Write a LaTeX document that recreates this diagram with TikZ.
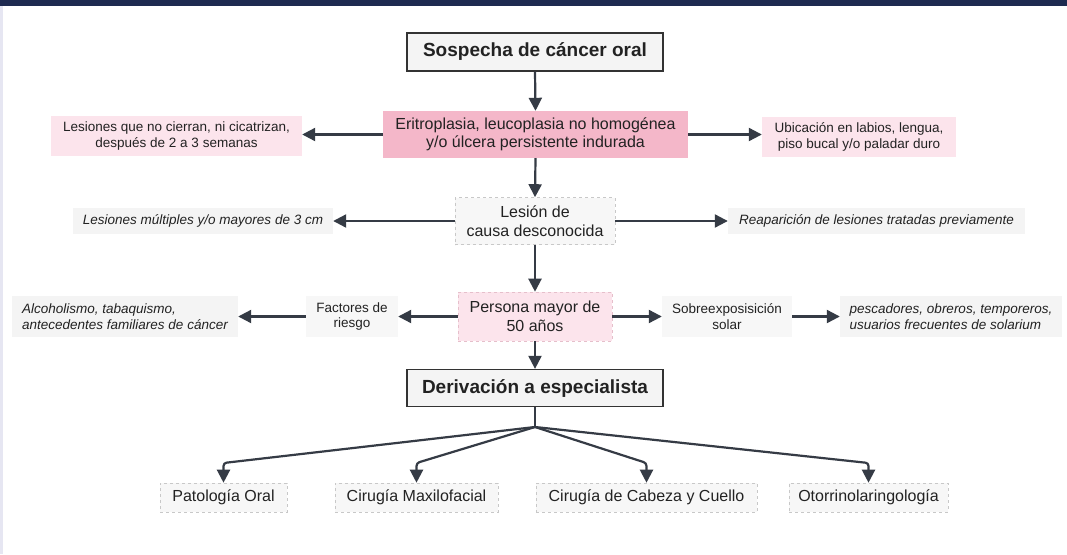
\documentclass[tikz,border=0pt]{standalone}
\usepackage{fontspec}
\setmainfont{Liberation Sans}
\usetikzlibrary{arrows.meta}
\definecolor{navy}{HTML}{1E2A50}
\definecolor{lav}{HTML}{E6E6F2}
\definecolor{txt}{HTML}{222222}
\definecolor{lin}{HTML}{353B45}
\definecolor{boxline}{HTML}{333333}
\definecolor{gbox}{HTML}{F4F4F4}
\definecolor{lgbox}{HTML}{F7F7F7}
\definecolor{dashgray}{HTML}{C8C8C8}
\definecolor{pinkA}{HTML}{F4B7C9}
\definecolor{pinkB}{HTML}{FCE4EC}
\definecolor{pinkdash}{HTML}{E6BFCB}
\begin{document}
\begin{tikzpicture}[x=1pt,y=-1pt,
  base/.style={inner sep=0pt, align=center, text=txt, font=\fontsize{13.5}{15.5}\selectfont},
  mainbox/.style={base, draw=boxline, line width=1.3pt, fill=gbox, font=\bfseries\fontsize{19}{22}\selectfont},
  hotbox/.style={base, fill=pinkA, font=\fontsize{16}{18.5}\selectfont},
  softpink/.style={base, fill=pinkB},
  personbox/.style={base, fill=pinkB, draw=pinkdash, dashed, line width=0.6pt, font=\fontsize{16}{18.5}\selectfont},
  graybox/.style={base, fill=lgbox, draw=dashgray, dashed, line width=0.6pt, font=\fontsize{16}{18.5}\selectfont},
  plainbox/.style={base, fill=lgbox},
  itbox/.style={base, fill=gbox, font=\itshape\fontsize{13.5}{15.5}\selectfont},
  arr/.style={draw=lin, line width=2.2pt, -{Triangle[length=13pt,width=13pt]}},
  ln/.style={draw=lin, line width=2.2pt}
]
\useasboundingbox (0,0) rectangle (1067,554);
\fill[white] (0,0) rectangle (1067,554);
\fill[navy] (0,0) rectangle (1067,6);
\fill[lav] (0,6) rectangle (3,554);

% nodes
\node[mainbox, minimum width=256pt, minimum height=38pt] (sosp) at (535,52) {Sospecha de cáncer oral};
\node[hotbox, minimum width=305pt, minimum height=47pt] (erit) at (535.5,134.5) {Eritroplasia, leucoplasia no homogénea\\y/o úlcera persistente indurada};
\node[softpink, minimum width=251pt, minimum height=40pt] (lesq) at (176.5,136) {Lesiones que no cierran, ni cicatrizan,\\después de 2 a 3 semanas};
\node[softpink, minimum width=194pt, minimum height=40pt] (ubic) at (859,137) {Ubicación en labios, lengua,\\piso bucal y/o paladar duro};
\node[graybox, minimum width=160pt, minimum height=47pt] (lesion) at (535,221) {Lesión de\\causa desconocida};
\node[itbox, minimum width=260pt, minimum height=26pt] (lmult) at (203,221) {Lesiones múltiples y/o mayores de 3 cm};
\node[itbox, minimum width=297pt, minimum height=26pt] (reap) at (876.5,221) {Reaparición de lesiones tratadas previamente};
\node[personbox, minimum width=154pt, minimum height=49pt] (persona) at (535,316.5) {Persona mayor de\\50 años};
\node[plainbox, minimum width=92pt, minimum height=41pt] (fact) at (352,316.5) {Factores de\\riesgo};
\node[itbox, align=left, minimum width=226pt, minimum height=41pt] (alco) at (125,316.5) {Alcoholismo, tabaquismo,\\antecedentes familiares de cáncer};
\node[plainbox, minimum width=130pt, minimum height=41pt] (sobre) at (727,316.5) {Sobreexposisición\\solar};
\node[itbox, align=left, minimum width=222pt, minimum height=41pt] (pesc) at (951,316.5) {pescadores, obreros, temporeros,\\usuarios frecuentes de solarium};
\node[mainbox, minimum width=256pt, minimum height=37pt] (deriv) at (535,388) {Derivación a especialista};
\coordinate (fan) at (535,427);
\node[graybox, minimum width=127pt, minimum height=29pt] (pat) at (223.5,497.5) {Patología Oral};
\node[graybox, minimum width=163pt, minimum height=29pt] (maxi) at (416.5,497.5) {Cirugía Maxilofacial};
\node[graybox, minimum width=221pt, minimum height=29pt] (cab) at (646.5,497.5) {Cirugía de Cabeza y Cuello};
\node[graybox, minimum width=159pt, minimum height=29pt] (oto) at (868.5,497.5) {Otorrinolaringología};

% connectors
\draw[arr] (sosp.south) -- (erit.north);
\draw[arr] (erit.west) -- (erit.west -| lesq.east);
\draw[arr] (erit.east) -- (erit.east -| ubic.west);
\draw[arr] (erit.south) -- (lesion.north);
\draw[arr] (lesion.west) -- (lesion.west -| lmult.east);
\draw[arr] (lesion.east) -- (lesion.east -| reap.west);
\draw[arr] (lesion.south) -- (persona.north);
\draw[arr] (persona.west) -- (fact.east);
\draw[arr] (fact.west) -- (alco.east);
\draw[arr] (persona.east) -- (sobre.west);
\draw[arr] (sobre.east) -- (pesc.west);
\draw[arr] (persona.south) -- (deriv.north);
\draw[ln] (deriv.south) -- (fan);
\draw[arr, rounded corners=3pt] (fan) -- (pat.north |- 0,463) -- (pat.north);
\draw[arr, rounded corners=3pt] (fan) -- (maxi.north |- 0,463) -- (maxi.north);
\draw[arr, rounded corners=3pt] (fan) -- (cab.north |- 0,463) -- (cab.north);
\draw[arr, rounded corners=3pt] (fan) -- (oto.north |- 0,463) -- (oto.north);
\end{tikzpicture}
\end{document}
